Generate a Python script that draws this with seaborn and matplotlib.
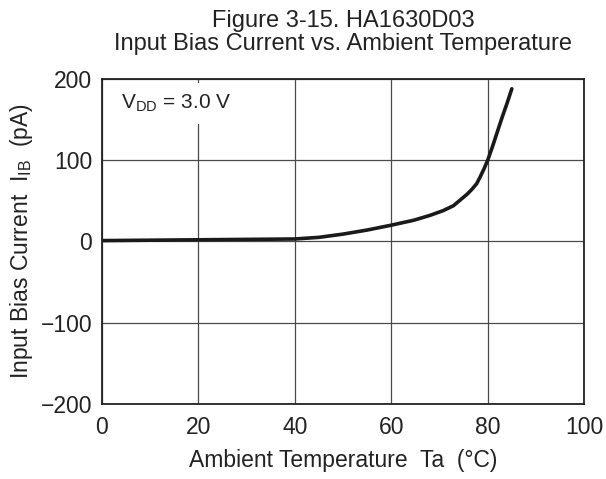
import os

import matplotlib
matplotlib.use("Agg")
import matplotlib.pyplot as plt
from matplotlib import font_manager
import pandas as pd
import seaborn as sns

# Data
temperature = [0, 10, 20, 30, 40, 45, 50, 55, 60, 64.6, 68, 70.8, 72.9, 74.3, 75.7,
               76.7, 77.7, 78.4, 79.2, 80, 81, 82, 83, 84, 85]
bias_current = [1, 1.5, 2, 2.5, 3, 5, 9, 14, 20, 26, 32, 38, 44, 51, 58,
                64, 71, 79, 89, 100, 117, 135, 153, 170, 188]

x_ticks = [0, 20, 40, 60, 80, 100]
y_ticks = [-200, -100, 0, 100, 200]
y_tick_labels = ["\u2212200", "\u2212100", "0", "100", "200"]

sns.set_style("white")

# make sure the regular (not Narrow) Liberation Sans is used
family = "Liberation Sans"
for path in font_manager.findSystemFonts():
    if os.path.basename(path) == "LiberationSans-Regular.ttf":
        font_manager.fontManager.addfont(path)
        family = font_manager.FontProperties(fname=path).get_name()
        break
plt.rcParams["font.family"] = [family, "DejaVu Sans"]
plt.rcParams["mathtext.fontset"] = "custom"
plt.rcParams["mathtext.rm"] = family

df = pd.DataFrame({"Ta": temperature, "IB": bias_current})

fig = plt.figure(figsize=(6.06, 4.79), dpi=100)
ax = fig.add_axes([0.168, 0.157, 0.796, 0.678])

sns.lineplot(data=df, x="Ta", y="IB", ax=ax, color="#1a1a1a", linewidth=2.6)

ax.set_xlim(0, 100)
ax.set_ylim(-200, 200)
ax.set_xticks(x_ticks)
ax.set_yticks(y_ticks)
ax.set_yticklabels(y_tick_labels)
ax.grid(True, color="#4a4a4a", linewidth=0.9)
for s in ax.spines.values():
    s.set_color("#222222")
    s.set_linewidth(1.3)
ax.tick_params(axis="x", labelsize=16.5, colors="#222222", length=0, pad=9)
ax.tick_params(axis="y", labelsize=16.5, colors="#222222", length=0, pad=7)

ax.set_xlabel("Ambient Temperature  Ta  (\u00b0C)", fontsize=16.5, color="#222222", labelpad=7)
ax.set_ylabel("Input Bias Current  I$_{\\mathregular{IB}}$  (pA)", fontsize=16.5, color="#222222", labelpad=4)
ax.set_title("Figure 3-15. HA1630D03\nInput Bias Current vs. Ambient Temperature",
             fontsize=17, color="#222222", pad=21, linespacing=1.05)

ax.text(4, 170, "V$_{\\mathregular{DD}}$ = 3.0 V", fontsize=15, color="#222222",
        ha="left", va="center", bbox=dict(facecolor="white", edgecolor="none", pad=7))

fig.savefig("out.png", dpi=100)
